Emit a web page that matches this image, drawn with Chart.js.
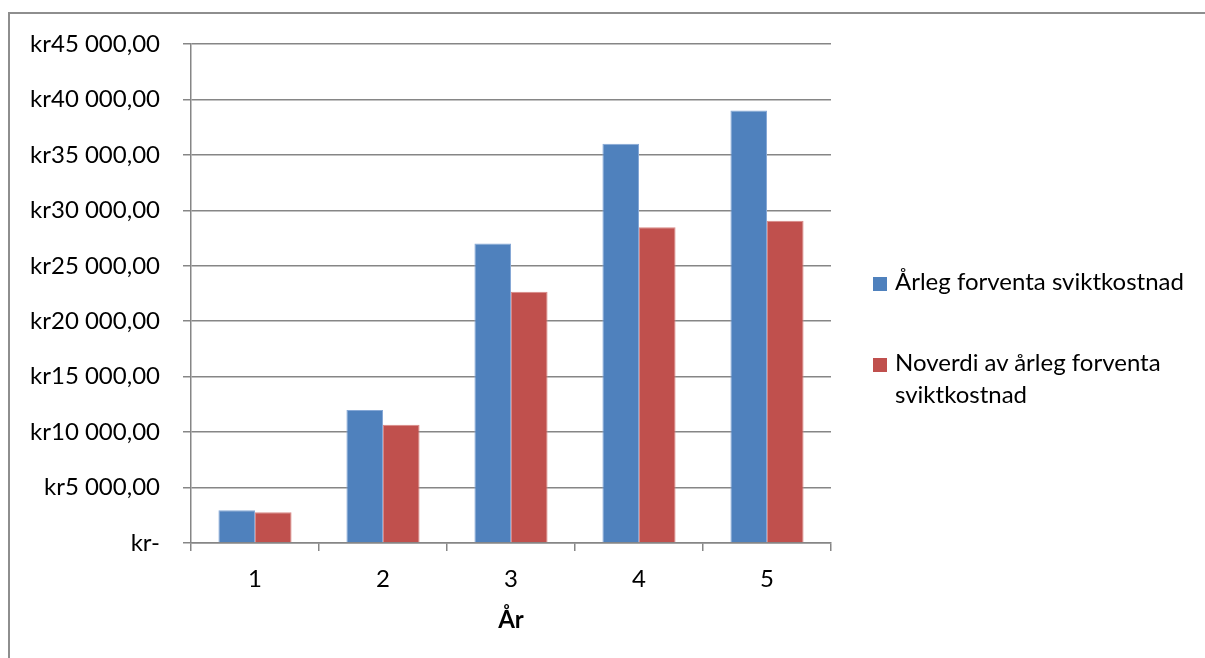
<!DOCTYPE html>
<html lang="no">
<head>
<meta charset="utf-8">
<title>Årleg forventa sviktkostnad</title>
<script src="https://cdn.jsdelivr.net/npm/chart.js@4/dist/chart.umd.min.js"></script>
<style>
  html, body { margin: 0; padding: 0; background: #fff; }
  body { width: 1205px; height: 658px; position: relative; overflow: hidden; }
  #frame {
    position: absolute; left: 8px; top: 12px; width: 1400px; height: 800px;
    border-left: 2px solid #8e8e8e; border-top: 2px solid #8e8e8e;
  }
  #wrap { position: absolute; left: 0; top: 0; width: 1205px; height: 658px; }
  #legend { position: absolute; left: 0; top: 0; }
  .item { position: absolute; font-family: Lato, "Open Sans", sans-serif; font-size: 24px; line-height: 32px; color: #000; }
  .swatch { position: absolute; width: 14px; height: 14px; }
  .text { position: absolute; left: 22px; top: 0; width: 300px; white-space: normal; }
</style>
</head>
<body>
<div id="frame"></div>
<div id="wrap"><canvas id="chart" width="1205" height="658"></canvas></div>
<div id="legend"></div>
<script>
// Years on the x axis
const categories = ['1', '2', '3', '4', '5'];
// Expected annual failure cost (kr)
const annualCost = [2950, 12000, 27000, 36000, 39000];
// Present value of the expected annual failure cost (kr)
const presentValue = [2770, 10660, 22650, 28470, 29070];
const seriesNames = ['Årleg forventa sviktkostnad', 'Noverdi av årleg forventa sviktkostnad'];
const yMin = 0;
const yMax = 45000;
const yStep = 5000;
const xTitle = 'År';

const FONT = 'Lato, "Open Sans", sans-serif';
const GRID = '#868686';
const BLUE = '#4F81BD', BLUE_EDGE = '#86A8D6';
const RED = '#C0504D', RED_EDGE = '#D98886';

// "kr45 000,00" style currency labels, zero shown as "kr-"
function kr(v) {
  if (v === 0) return 'kr-';
  const whole = Math.round(v).toString().replace(/\B(?=(\d{3})+(?!\d))/g, ' ');
  return 'kr' + whole + ',00';
}

Chart.defaults.font.family = FONT;
Chart.defaults.font.size = 24;
Chart.defaults.color = '#000';

const chart = new Chart(document.getElementById('chart'), {
  type: 'bar',
  data: {
    labels: categories,
    datasets: [
      { label: seriesNames[0], data: annualCost, backgroundColor: BLUE, borderColor: BLUE_EDGE, borderWidth: 1, borderSkipped: 'start' },
      { label: seriesNames[1], data: presentValue, backgroundColor: RED, borderColor: RED_EDGE, borderWidth: 1, borderSkipped: 'start' }
    ]
  },
  options: {
    responsive: false,
    animation: false,
    events: [],
    layout: { padding: { left: 10, top: 44, right: 374, bottom: 0 } },
    datasets: { bar: { categoryPercentage: 1 / 1.75, barPercentage: 1 } },
    plugins: { legend: { display: false }, tooltip: { enabled: false } },
    scales: {
      x: {
        afterFit: (s) => { s.height = 115; },
        grid: { offset: true, drawOnChartArea: false, drawTicks: true, tickLength: 8, color: GRID, lineWidth: 1.5 },
        border: { display: true, color: GRID, width: 1.5 },
        ticks: { padding: 14, font: { size: 24 }, color: '#000' },
        title: { display: true, text: xTitle, font: { size: 24, weight: 'bold' }, color: '#000', padding: { top: 4, bottom: 23 } }
      },
      y: {
        min: yMin, max: yMax,
        afterFit: (s) => { s.width = 181; },
        ticks: { stepSize: yStep, padding: 23, callback: (v) => kr(v), font: { size: 24 }, color: '#000' },
        grid: { color: GRID, lineWidth: 1.5, drawTicks: true, tickLength: 8 },
        border: { display: true, color: GRID, width: 1.5 }
      }
    }
  }
});

// Legend to the right of the plot, built from the datasets
const legend = document.getElementById('legend');
const legendTops = [265, 346];
chart.data.datasets.forEach((ds, i) => {
  const item = document.createElement('div');
  item.className = 'item';
  item.style.left = '873px';
  item.style.top = legendTops[i] + 'px';
  const sw = document.createElement('div');
  sw.className = 'swatch';
  sw.style.background = ds.backgroundColor;
  sw.style.top = '12px';
  const tx = document.createElement('div');
  tx.className = 'text';
  tx.textContent = ds.label;
  item.appendChild(sw);
  item.appendChild(tx);
  legend.appendChild(item);
});
</script>
</body>
</html>
